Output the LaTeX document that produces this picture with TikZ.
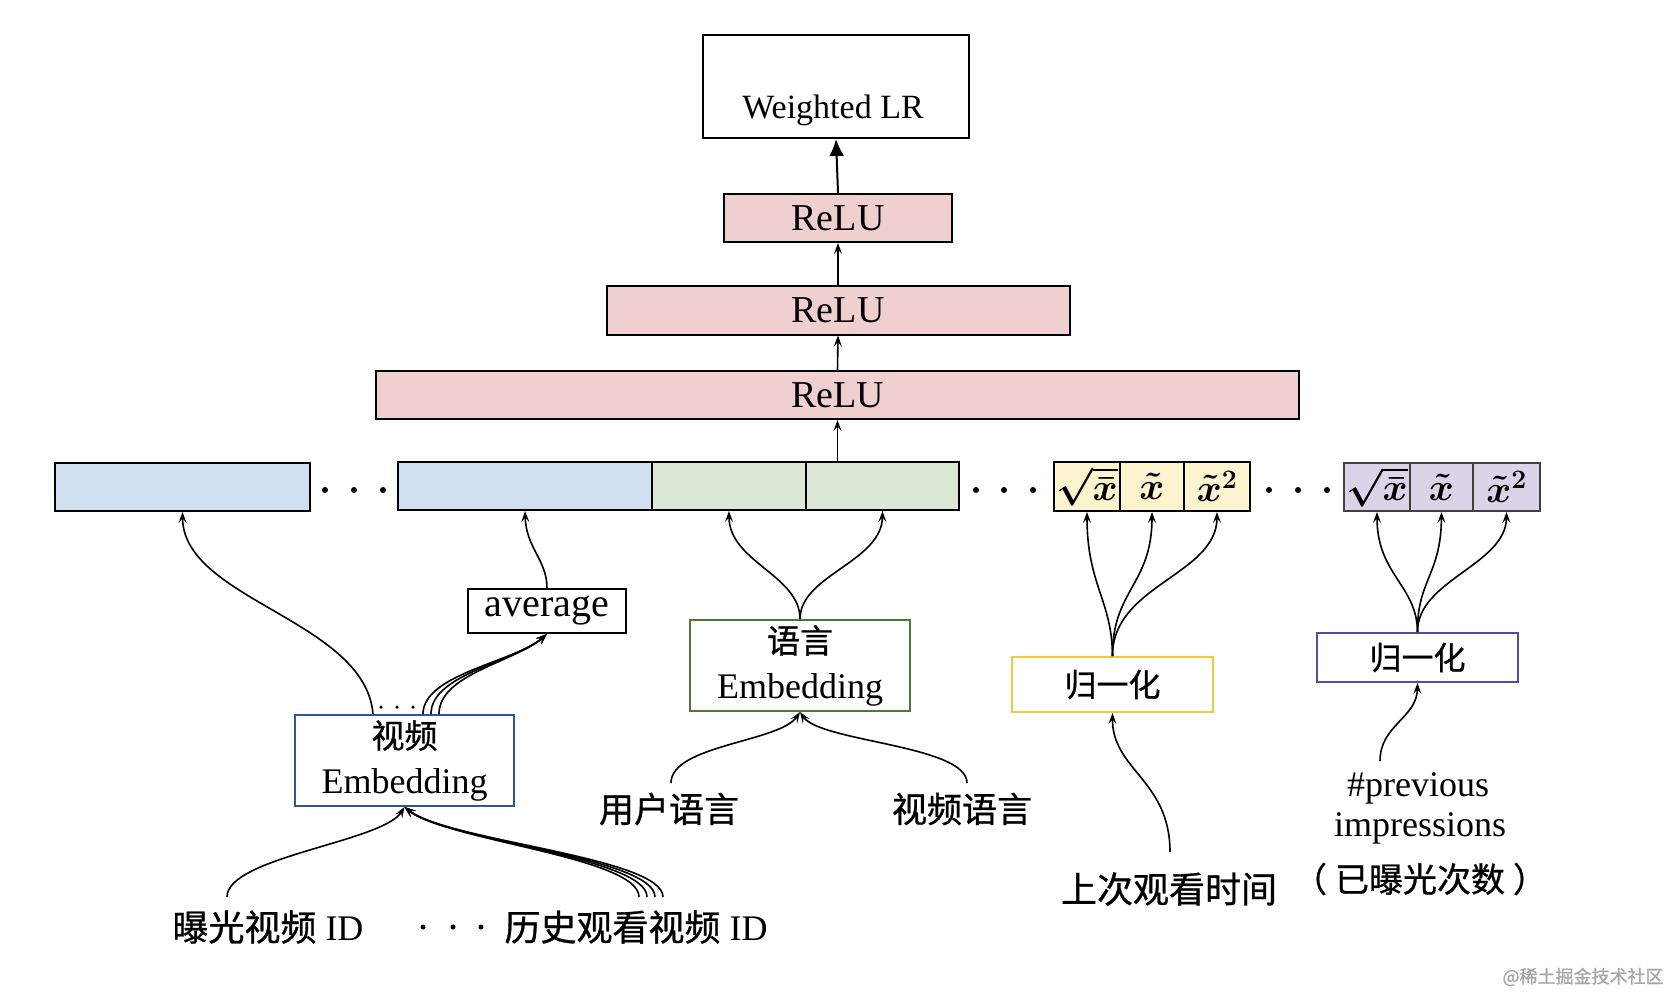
\RequirePackage{fix-cm}
\documentclass[tikz,border=0pt]{standalone}
\usepackage{fontspec}
\setmainfont{Liberation Serif}
\newfontfamily\cjk[FakeBold=0.8]{Noto Sans CJK SC}
\usetikzlibrary{arrows.meta,calc}
\definecolor{relupink}{HTML}{EFCFCF}
\definecolor{bluefill}{HTML}{D0E0F0}
\definecolor{greenfill}{HTML}{DCE8D6}
\definecolor{yellowfill}{HTML}{FCF3CF}
\definecolor{purplefill}{HTML}{DAD4E8}
\definecolor{vborder}{HTML}{2F5597}
\definecolor{lborder}{HTML}{4E7A32}
\definecolor{yborder}{HTML}{F2C744}
\definecolor{pborder}{HTML}{5A4A9E}
\begin{document}
\begin{tikzpicture}[x=1pt,y=-1pt,
  box/.style={draw, line width=2pt, rectangle, inner sep=0pt, anchor=center},
  relubox/.style={box, fill=relupink, minimum height=48pt, font=\fontsize{38}{40}\selectfont},
  cell/.style={box, minimum height=48pt, font=\fontsize{38}{40}\selectfont\boldmath},
  embbox/.style={box, minimum height=91pt, minimum width=220pt, align=center, font=\fontsize{36}{45}\selectfont},
  normbox/.style={box, minimum width=201pt, font=\cjk\fontsize{32}{36}\selectfont},
  conn/.style={line width=1.6pt, -{Stealth[length=11pt,width=8pt,inset=4.5pt]}},
  dotc/.style={circle, fill=black, inner sep=0pt, minimum size=6pt},
  sdot/.style={circle, fill=black, inner sep=0pt, minimum size=3.5pt},
  lbl/.style={inner sep=0pt, font=\fontsize{36}{40}\selectfont},
  cjklbl/.style={inner sep=0pt, font=\cjk\fontsize{35}{40}\selectfont}
]
\fill[white] (0,0) rectangle (1670,994);
\useasboundingbox (0,0) rectangle (1670,994);

% top stack
\node[box, minimum width=266pt, minimum height=103pt] (wlr) at (836,86.5) {};
\node[inner sep=0pt, anchor=base, font=\fontsize{34}{36}\selectfont] (wlrtext) at (833,118) {Weighted LR};
\node[relubox, minimum width=228pt] (relu1) at (838,218) {ReLU};
\node[relubox, minimum width=463pt, minimum height=49pt] (relu2) at (838,310) {ReLU};
\node[relubox, minimum width=923pt] (relu3) at (837.5,395) {ReLU};

% feature row
\node[cell, fill=bluefill, minimum width=255pt] (b1) at (182.5,487) {};
\node[cell, fill=bluefill, minimum width=254pt] (b2) at (525,486) {};
\node[cell, fill=greenfill, minimum width=154pt] (g1) at (729,486) {};
\node[cell, fill=greenfill, minimum width=153pt] (g2) at (882.5,486) {};
\node[cell, fill=yellowfill, minimum width=66pt, minimum height=49pt] (y1) at (1087,486.5) {$\sqrt{\bar{x}}$};
\node[cell, fill=yellowfill, minimum width=64pt, minimum height=49pt] (y2) at (1152,486.5) {$\tilde{x}$};
\node[cell, fill=yellowfill, minimum width=66pt, minimum height=49pt] (y3) at (1217,486.5) {$\tilde{x}^2$};
\node[cell, fill=purplefill, minimum width=66pt, draw=black!75] (p1) at (1377,487) {$\sqrt{\bar{x}}$};
\node[cell, fill=purplefill, minimum width=63pt, draw=black!75] (p2) at (1441.5,487) {$\tilde{x}$};
\node[cell, fill=purplefill, minimum width=67pt, draw=black!75] (p3) at (1506.5,487) {$\tilde{x}^2$};

\node[dotc] (da1) at (325,490) {};
\node[dotc] (da2) at (354,490) {};
\node[dotc] (da3) at (383,490) {};
\node[dotc] (db1) at (976,490) {};
\node[dotc] (db2) at (1004,490) {};
\node[dotc] (db3) at (1033,490) {};
\node[dotc] (dc1) at (1269,490) {};
\node[dotc] (dc2) at (1298,490) {};
\node[dotc] (dc3) at (1327,490) {};

% middle boxes
\node[box, minimum width=158pt, minimum height=44pt, font=\fontsize{40}{42}\selectfont] (avg) at (547,611) {average};
\node[embbox, draw=vborder, minimum width=219pt] (vemb) at (404.5,760.5) {{\cjk\fontsize{33}{45}\selectfont 视频}\\Embedding};
\node[embbox, draw=lborder] (lemb) at (800,665.5) {{\cjk\fontsize{33}{45}\selectfont 语言}\\Embedding};
\node[normbox, draw=yborder, minimum height=55pt] (ynorm) at (1112.5,684.5) {归一化};
\node[normbox, draw=pborder, minimum height=49pt] (pnorm) at (1417.5,657.5) {归一化};

\node[sdot] (sd1) at (381,707) {};
\node[sdot] (sd2) at (397,707) {};
\node[sdot] (sd3) at (413,707) {};

% labels
\node[lbl] (lexp) at (268,927) {{\cjk 曝光视频} ID};
\node[dotc, minimum size=5pt] (dl1) at (423,927) {};
\node[dotc, minimum size=5pt] (dl2) at (453,927) {};
\node[dotc, minimum size=5pt] (dl3) at (481,927) {};
\node[lbl] (lhist) at (636,927) {{\cjk 历史观看视频} ID};
\node[cjklbl] (ulang) at (669,809) {用户语言};
\node[cjklbl] (vlang) at (962,809) {视频语言};
\node[cjklbl, font=\cjk\fontsize{36}{40}\selectfont] (lasttime) at (1169,889) {上次观看时间};
\node[lbl] (prev) at (1418,788) {\#previous};
\node[lbl] (impr) at (1420,828) {impressions};
\node[cjklbl, font=\cjk\fontsize{34}{40}\selectfont] (imprcn) at (1420,879) {（\hspace{8pt}已曝光次数\hspace{8pt}）};
\node[inner sep=0pt, font=\cjk\fontsize{18}{20}\selectfont, text=black!35] (wm) at (1583,977) {@稀土掘金技术社区};

% free ends
\coordinate (es) at (227,897);
\coordinate (hs) at (639,897);
\coordinate (us) at (671,783);
\coordinate (vs) at (967,783);
\coordinate (ls) at (1170,852);
\coordinate (ps) at (1380,761);

% top stack connectors
\draw[line width=2pt, -{Latex[length=17pt,width=15pt]}] (relu1.north) -- (wlr.south);
\draw[conn] (relu2.north) -- (relu1.south);
\draw[conn] (relu3.north) -- (relu2.south);
\draw[conn] (relu3.south |- g2.north) -- (relu3.south);

% video embedding
\draw[conn] ($(vemb.north)+(-31.5,0)$) .. controls (365,620) and (183,600) .. (b1.south);
\foreach \d in {0,8,16} {
  \draw[conn] ($(vemb.north)+(18.5+\d,0)$) .. controls ($(vemb.north)+(18.5+\d,-40)$) and (515,662) .. (avg.south);
}
\draw[conn] (avg.north) .. controls (547,560) and (526,548) .. (b2.south);
\draw[conn] (es) .. controls (227,857) and (383,842) .. (vemb.south);
\foreach \d in {0,8,16,24} {
  \draw[conn] ($(hs)+(\d,0)$) .. controls ($(hs)+(\d,-40)$) and (447,841) .. (vemb.south);
}

% language embedding
\draw[conn] (lemb.north) .. controls (800,575) and (729,562) .. (g1.south);
\draw[conn] (lemb.north) .. controls (800,575) and (882,562) .. (g2.south);
\draw[conn] (us) .. controls (671,745) and (780,742) .. (lemb.south);
\draw[conn] (vs) .. controls (967,745) and (820,742) .. (lemb.south);

% yellow normalization
\draw[conn] (ynorm.north) .. controls (1112,600) and (1087,585) .. (y1.south);
\draw[conn] (ynorm.north) .. controls (1112,590) and (1152,585) .. (y2.south);
\draw[conn] (ynorm.north) .. controls (1112,585) and (1217,575) .. (y3.south);
\draw[conn] (ls) .. controls (1170,780) and (1112,770) .. (ynorm.south);

% purple normalization
\draw[conn] (pnorm.north) .. controls (1417,585) and (1377,575) .. (p1.south);
\draw[conn] (pnorm.north) .. controls (1417,580) and (1441,575) .. (p2.south);
\draw[conn] (pnorm.north) .. controls (1417,580) and (1506,565) .. (p3.south);
\draw[conn] (ps) .. controls (1380,725) and (1417,718) .. (pnorm.south);
\end{tikzpicture}
\end{document}
